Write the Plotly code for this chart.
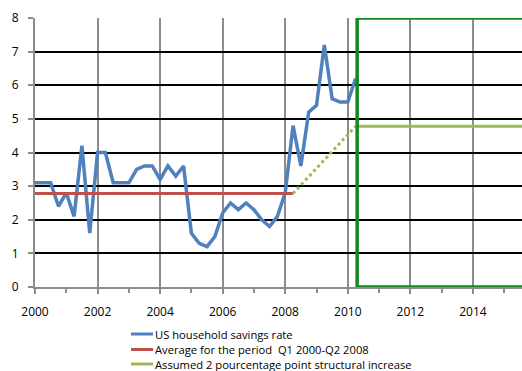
import plotly.graph_objects as go

# Quarterly US household savings rate, Q1 2000 - Q2 2010
years = [2000 + 0.25 * i for i in range(42)]
savings = [3.1, 3.1, 3.1, 2.4, 2.8, 2.1, 4.2, 1.6,
           4.0, 4.0, 3.1, 3.1, 3.1, 3.5, 3.6, 3.6,
           3.2, 3.6, 3.3, 3.6, 1.6, 1.3, 1.2, 1.5,
           2.2, 2.5, 2.3, 2.5, 2.3, 2.0, 1.8, 2.1,
           2.8, 4.8, 3.6, 5.2, 5.4, 7.2, 5.6, 5.5,
           5.5, 6.2]

avg_x = [2000.0, 2008.25]
avg_y = [2.78, 2.78]

trans_x = [2008.25, 2010.25]
trans_y = [2.78, 4.78]

assumed_x = [2010.25, 2016.0]
assumed_y = [4.78, 4.78]

box_x = [2010.3, 2016.0]
box_y = [0, 8]

x_ticks = [2000, 2002, 2004, 2006, 2008, 2010, 2012, 2014]
y_ticks = [0, 1, 2, 3, 4, 5, 6, 7, 8]

legend_names = ["US household savings rate",
                "Average for the period  Q1 2000-Q2 2008",
                "Assumed 2 pourcentage point structural increase"]

BLUE = "#4F81BD"
RED = "#C0504D"
GREEN = "#9BBB59"
BOX = "#138A1E"
FONT = "Open Sans"

W, H = 522, 371
L, R, T, B = 35, 0, 18, 84
PW, PH = W - L - R, H - T - B

def px2paper_x(px):
    return (px - L) / PW

def px2paper_y(py):
    return (H - B - py) / PH

fig = go.Figure()
fig.add_trace(go.Scatter(x=years, y=savings, mode="lines", name=legend_names[0],
                         line=dict(color=BLUE, width=3.5)))
fig.add_trace(go.Scatter(x=avg_x, y=avg_y, mode="lines", name=legend_names[1],
                         line=dict(color=RED, width=3)))
fig.add_trace(go.Scatter(x=trans_x, y=trans_y, mode="lines",
                         line=dict(color=GREEN, width=3, dash="dot")))
fig.add_trace(go.Scatter(x=assumed_x, y=assumed_y, mode="lines", name=legend_names[2],
                         line=dict(color=GREEN, width=3)))

fig.add_shape(type="rect", xref="x", yref="y", x0=box_x[0], x1=box_x[1], y0=box_y[0], y1=box_y[1],
              line=dict(color=BOX, width=3.5), fillcolor="rgba(0,0,0,0)", layer="above")

# manual legend
leg_colors = [BLUE, RED, GREEN]
leg_rows = [334, 349.5, 364]
for name, col, py in zip(legend_names, leg_colors, leg_rows):
    fig.add_shape(type="line", xref="paper", yref="paper",
                  x0=px2paper_x(131), x1=px2paper_x(153), y0=px2paper_y(py), y1=px2paper_y(py),
                  line=dict(color=col, width=3))
    fig.add_annotation(xref="paper", yref="paper", x=px2paper_x(153), y=px2paper_y(py),
                       xanchor="left", yanchor="middle", showarrow=False, text=name,
                       font=dict(size=11.2, family=FONT, color="#000000"))

fig.update_layout(
    width=W, height=H,
    margin=dict(l=L, r=R, t=T, b=B, autoexpand=False),
    paper_bgcolor="white", plot_bgcolor="white",
    font=dict(family=FONT, size=12, color="#000000"),
    showlegend=False,
    xaxis=dict(range=[2000, 2015.57], tickvals=x_ticks, showgrid=True, gridcolor="#8C8C8C", gridwidth=1.5,
               showline=True, linecolor="#8C8C8C", linewidth=2, ticks="outside", ticklen=5,
               tickcolor="#8C8C8C", tickwidth=1.5, zeroline=False, tickangle=0, ticklabelstandoff=8,
               minor=dict(dtick=1, tick0=2000, ticks="outside", ticklen=4, tickcolor="#8C8C8C", showgrid=False),
               tickfont=dict(size=12, family=FONT)),
    yaxis=dict(range=[0, 8], tickvals=y_ticks, showgrid=True, gridcolor="#000000", gridwidth=1.5,
               showline=True, linecolor="#8C8C8C", linewidth=2, ticks="outside", ticklen=5,
               tickcolor="#8C8C8C", tickwidth=1.5, zeroline=False, ticklabelstandoff=7,
               tickfont=dict(size=12, family=FONT)),
)

fig.write_html("out.html")
